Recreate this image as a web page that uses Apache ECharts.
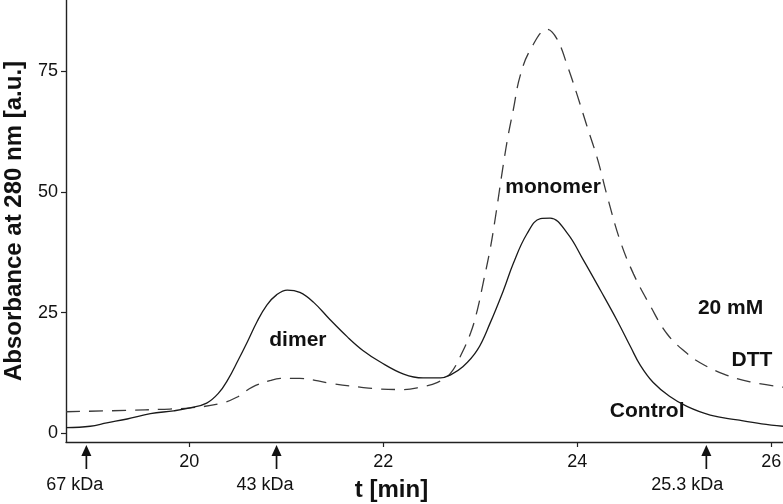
<!DOCTYPE html>
<html>
<head>
<meta charset="utf-8">
<script src="https://cdn.jsdelivr.net/npm/echarts@6/dist/echarts.min.js"></script>
<style>
  html, body { margin: 0; padding: 0; background: #fff; }
  #chart { width: 783px; height: 504px; }
</style>
</head>
<body>
<div id="chart"></div>
<script>
// ---- data ----
const controlTime = [18.73, 18.98, 19.15, 19.36, 19.60, 19.84, 20.01, 20.18, 20.30, 20.40, 20.50, 20.60, 20.70, 20.80, 20.90, 21.01, 21.14, 21.28, 21.45, 21.63, 21.79, 21.97, 22.21, 22.41, 22.59, 22.69, 22.82, 22.97, 23.10, 23.24, 23.34, 23.48, 23.62, 23.72, 23.90, 24.06, 24.24, 24.41, 24.55, 24.65, 24.78, 24.95, 25.13, 25.37, 25.65, 25.90, 26.12];
const controlValue = [1.2, 1.5, 2.2, 3.0, 4.1, 4.7, 5.3, 6.3, 8.3, 11.2, 15.0, 19.0, 23.2, 26.6, 28.7, 29.7, 29.2, 27.2, 23.6, 20.0, 17.2, 14.8, 12.3, 11.5, 11.5, 12.1, 13.8, 17.3, 22.8, 29.7, 35.2, 41.3, 44.5, 44.6, 41.4, 36.0, 29.6, 23.4, 17.9, 14.1, 10.6, 7.7, 5.6, 3.8, 2.8, 2.0, 1.5];

const dttTime = [18.73, 19.39, 19.70, 20.01, 20.32, 20.49, 20.65, 20.84, 20.94, 21.14, 21.45, 21.76, 21.97, 22.21, 22.38, 22.56, 22.69, 22.79, 22.90, 22.97, 23.03, 23.10, 23.15, 23.24, 23.29, 23.34, 23.41, 23.52, 23.69, 23.79, 23.90, 24.00, 24.10, 24.21, 24.31, 24.44, 24.58, 24.75, 24.93, 25.13, 25.27, 25.51, 25.78, 26.12];
const dttValue = [4.5, 4.8, 5.0, 5.3, 6.2, 7.5, 9.6, 11.0, 11.4, 11.4, 10.4, 9.6, 9.2, 9.1, 9.6, 10.6, 12.4, 15.8, 20.8, 25.6, 31.2, 38.0, 44.0, 56.0, 62.0, 67.0, 74.0, 79.6, 83.7, 81.7, 76.0, 70.0, 63.6, 56.7, 49.0, 40.0, 33.0, 26.5, 20.5, 16.6, 14.6, 12.3, 10.7, 9.6];

const xTicks = [20, 22, 24, 26];
const yTicks = [0, 25, 50, 75];

const markerTimes = [18.94, 20.90, 25.33];
const markerLabels = ['67 kDa', '43 kDa', '25.3 kDa'];

const noteTexts = ['monomer', 'dimer', '20 mM', 'DTT', 'Control'];
const noteTimes = [23.75, 21.12, 25.58, 25.80, 24.72];
const noteValues = [51.0, 19.4, 26.0, 15.2, 4.7];

const xMin = 18.73, xMax = 26.12, yMin = -1.76, yMax = 89.75;

// ---- chart ----
const FONT = "'Liberation Sans', Arial, Helvetica, sans-serif";
const chart = echarts.init(document.getElementById('chart'), null, { renderer: 'canvas' });

const zip = (a, b) => a.map((t, i) => [t, b[i]]);

chart.setOption({
  animation: false,
  backgroundColor: '#ffffff',
  grid: { left: 66, right: 0, top: 0, bottom: 62, containLabel: false, outerBoundsMode: 'none' },
  xAxis: {
    type: 'value', min: xMin, max: xMax,
    name: 't [min]', nameLocation: 'middle', nameGap: 36,
    nameTextStyle: { fontFamily: FONT, fontSize: 24, fontWeight: 'bold', color: '#111', padding: [0, 66, 0, 0] },
    axisLine: { show: true, onZero: false, lineStyle: { color: '#222', width: 1.4 } },
    axisTick: { show: true, length: 5, customValues: xTicks, lineStyle: { color: '#222', width: 1.2 } },
    axisLabel: { customValues: xTicks, fontFamily: FONT, fontSize: 18, color: '#111', margin: 11 },
    splitLine: { show: false }
  },
  yAxis: {
    type: 'value', min: yMin, max: yMax,
    name: 'Absorbance at 280 nm [a.u.]', nameLocation: 'middle', nameGap: 40,
    nameTextStyle: { fontFamily: FONT, fontSize: 24, fontWeight: 'bold', color: '#111' },
    axisLine: { show: true, onZero: false, lineStyle: { color: '#222', width: 1.4 } },
    axisTick: { show: true, length: 5, customValues: yTicks, lineStyle: { color: '#222', width: 1.2 } },
    axisLabel: { customValues: yTicks, fontFamily: FONT, fontSize: 18, color: '#111', margin: 8 },
    splitLine: { show: false }
  },
  series: [
    {
      name: '20 mM DTT', type: 'line', data: zip(dttTime, dttValue),
      smooth: 0.4, showSymbol: false, symbol: 'none',
      lineStyle: { color: '#3a3a3a', width: 1.3, type: [14, 9] }
    },
    {
      name: 'Control', type: 'line', data: zip(controlTime, controlValue),
      smooth: 0.4, showSymbol: false, symbol: 'none',
      lineStyle: { color: '#1a1a1a', width: 1.3 }
    },
    {
      name: 'markers', type: 'custom', clip: false, silent: true,
      data: markerTimes.map(t => [t]),
      renderItem: function (params, api) {
        const p = api.coord([api.value(0), yMin]);
        const x = p[0], y0 = p[1];
        return {
          type: 'group',
          children: [
            { type: 'line', shape: { x1: x, y1: y0 + 12, x2: x, y2: y0 + 27 }, style: { stroke: '#111', lineWidth: 1.7 } },
            { type: 'polygon', shape: { points: [[x, y0 + 3], [x - 5, y0 + 14], [x + 5, y0 + 14]] }, style: { fill: '#111' } },
            { type: 'text', x: x + 17, y: y0 + 43, style: { text: markerLabels[params.dataIndex], fontFamily: FONT, fontSize: 18, fill: '#111', align: 'right', verticalAlign: 'middle' } }
          ]
        };
      }
    },
    {
      name: 'notes', type: 'custom', clip: false, silent: true,
      data: noteTimes.map((t, i) => [t, noteValues[i]]),
      renderItem: function (params, api) {
        const p = api.coord([api.value(0), api.value(1)]);
        return {
          type: 'text', x: p[0], y: p[1],
          style: { text: noteTexts[params.dataIndex], fontFamily: FONT, fontSize: 21, fontWeight: 'bold', fill: '#111', align: 'center', verticalAlign: 'middle' }
        };
      }
    }
  ]
});
</script>
</body>
</html>
